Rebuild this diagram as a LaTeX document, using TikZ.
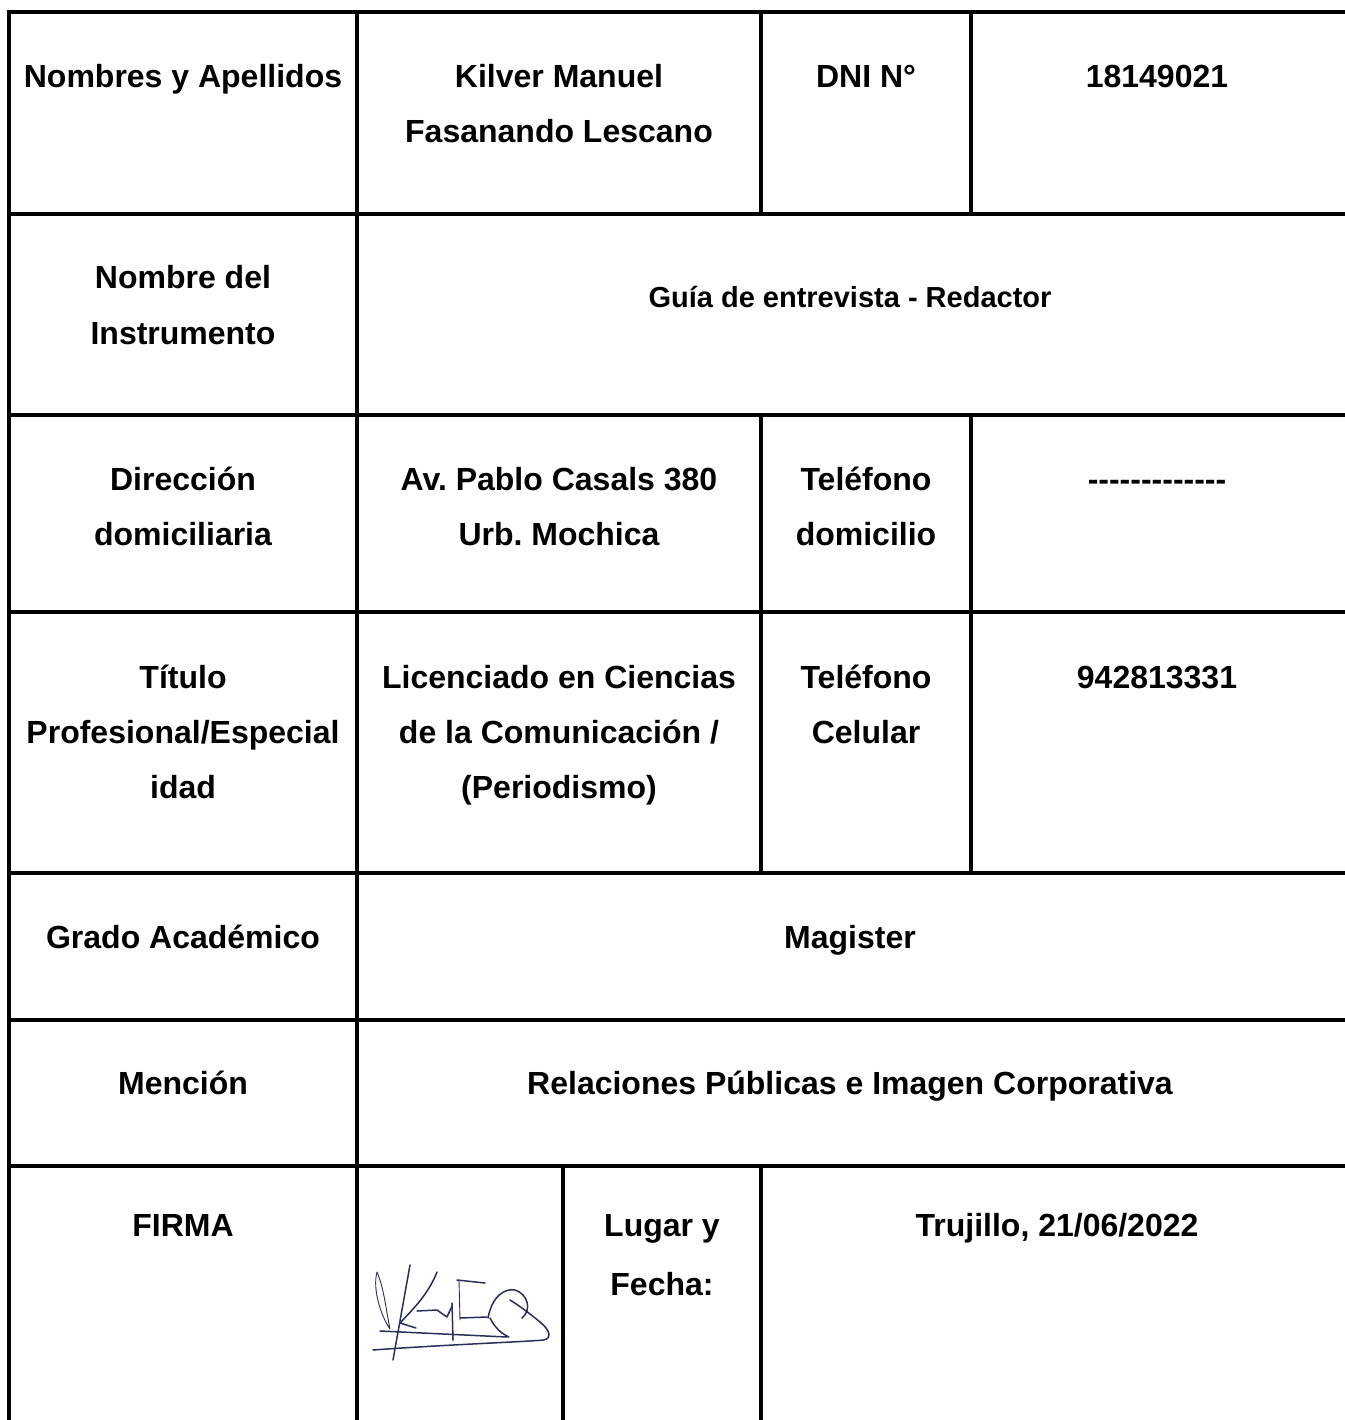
\documentclass[tikz,border=0pt]{standalone}
\usepackage{fontspec}
\setmainfont{Liberation Sans}[Ligatures=TeXOff]
\frenchspacing
\begin{document}
\begin{tikzpicture}[x=1pt,y=-1pt,
  txt/.style={font=\bfseries\fontsize{32}{38}\selectfont, inner sep=0pt, anchor=base},
  small/.style={font=\bfseries\fontsize{29}{34}\selectfont, inner sep=0pt, anchor=base},
  grid/.style={line width=4pt, line cap=rect},
  sig/.style={line width=1.5pt, color=sigcol, line cap=round, line join=round}]
\definecolor{sigcol}{HTML}{2B2F5C}
\useasboundingbox (0,0) rectangle (1344,1420);
\fill[white] (0,0) rectangle (1344,1420);
% grid
\draw[grid] (9,12) -- (1344,12);
\foreach \yy in {214,415,612,873,1020,1166} \draw[grid] (9,\yy) -- (1344,\yy);
\draw[grid] (9,12) -- (9,1420);
\draw[grid] (357,12) -- (357,1420);
\draw[grid] (761,12) -- (761,214);
\draw[grid] (971,12) -- (971,214);
\draw[grid] (761,415) -- (761,873);
\draw[grid] (971,415) -- (971,873);
\draw[grid] (563,1166) -- (563,1420);
\draw[grid] (761,1166) -- (761,1420);
% row 1
\node[txt] (n1) at (183,88) {Nombres y Apellidos};
\node[txt] (k1) at (559,88) {Kilver Manuel};
\node[txt] (k2) at (559,143) {Fasanando Lescano};
\node[txt] (d1) at (866,88) {DNI N°};
\node[txt] (d2) at (1157,88) {18149021};
% row 2
\node[txt] (i1) at (183,289) {Nombre del};
\node[txt] (i2) at (183,344) {Instrumento};
\node[small] (g1) at (850,307) {Guía de entrevista - Redactor};
% row 3
\node[txt] (a1) at (183,490) {Dirección};
\node[txt] (a2) at (183,545) {domiciliaria};
\node[txt] (b1) at (559,490) {Av. Pablo Casals 380};
\node[txt] (b2) at (559,545) {Urb. Mochica};
\node[txt] (c1) at (866,490) {Teléfono};
\node[txt] (c2) at (866,545) {domicilio};
\node[txt] (e1) at (1157,490) {-------------};
% row 4
\node[txt] (t1) at (183,688) {Título};
\node[txt] (t2) at (183,743) {Profesional/Especial};
\node[txt] (t3) at (183,798) {idad};
\node[txt] (l1) at (559,688) {Licenciado en Ciencias};
\node[txt] (l2) at (559,743) {de la Comunicación /};
\node[txt] (l3) at (559,798) {(Periodismo)};
\node[txt] (f1) at (866,688) {Teléfono};
\node[txt] (f2) at (866,743) {Celular};
\node[txt] (p1) at (1157,688) {942813331};
% row 5
\node[txt] (gr) at (183,948) {Grado Académico};
\node[txt] (ma) at (850,948) {Magister};
% row 6
\node[txt] (me) at (183,1094) {Mención};
\node[txt] (rp) at (850,1094) {Relaciones Públicas e Imagen Corporativa};
% row 7
\node[txt] (fi) at (183,1236) {FIRMA};
\node[txt] (lu1) at (662,1236) {Lugar y};
\node[txt] (lu2) at (662,1295) {Fecha:};
\node[txt] (tr) at (1057,1236) {Trujillo, 21/06/2022};
% signature
\draw[sig, line width=0.9pt] (377,1272) .. controls (372,1290) and (382,1318) .. (390,1329) .. controls (386,1310) and (384,1288) .. (377,1272);
\draw[sig] (410,1265) -- (393,1360);
\draw[sig] (437,1272) .. controls (428,1295) and (412,1310) .. (400,1323) -- (416,1328);
\draw[sig] (417,1311) -- (437,1310) -- (447,1317) -- (452,1306);
\draw[sig] (452,1303) -- (453,1340);
\draw[sig] (457,1280) -- (485,1283);
\draw[sig, line width=0.9pt] (459,1280) -- (460,1320);
\draw[sig] (460,1318) -- (487,1317);
\draw[sig] (488,1318) .. controls (492,1296) and (505,1288) .. (515,1290) .. controls (528,1294) and (532,1310) .. (522,1318);
\draw[sig] (490,1318) .. controls (495,1328) and (502,1334) .. (509,1337);
\draw[sig] (380,1331) -- (507,1337);
\draw[sig] (373,1350) .. controls (440,1345) and (520,1342) .. (544,1340) .. controls (552,1338) and (550,1330) .. (540,1322) .. controls (528,1312) and (518,1305) .. (510,1300);
\end{tikzpicture}
\end{document}
